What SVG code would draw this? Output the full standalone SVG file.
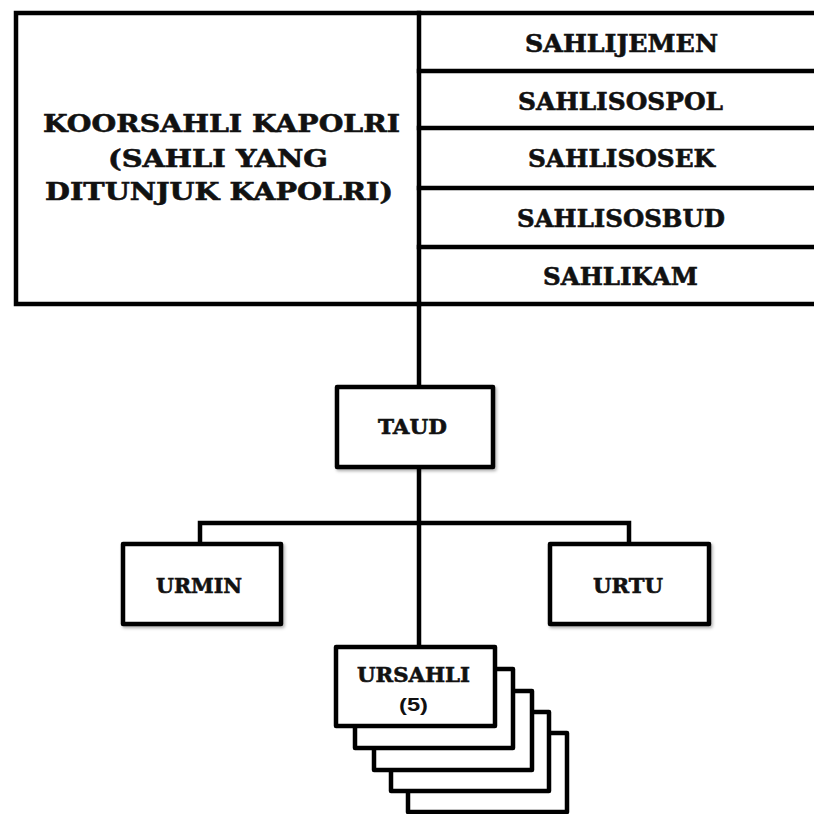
<svg xmlns="http://www.w3.org/2000/svg" width="814" height="814" viewBox="0 0 814 814">
<defs>
<style>
.ln{stroke:#000;stroke-width:4.5;fill:none;stroke-linecap:square}
.bx{fill:#fff;stroke:#000;stroke-width:4.5;stroke-linejoin:round}
.t{font-family:"DejaVu Serif","Liberation Serif",serif;font-weight:bold;fill:#111;stroke:#111;stroke-width:0.6;text-anchor:middle}
.big{font-size:23.5px}
.mid{font-size:24.5px}
.sm{font-size:20.5px}
.sans{font-family:"Liberation Sans","DejaVu Sans",sans-serif;font-weight:bold;font-size:18px;fill:#111;text-anchor:middle}
</style>
<filter id="sh" x="-10%" y="-10%" width="130%" height="130%">
<feDropShadow dx="1.5" dy="2" stdDeviation="1.5" flood-color="#000" flood-opacity="0.3"/>
</filter>
</defs>
<rect width="814" height="814" fill="#fff"/>
<g id="connectors">
<line class="ln" x1="419" y1="304" x2="419" y2="647"/>
<polyline class="ln" points="200,544 200,523 629,523 629,544"/>
</g>
<g id="koorsahli">
<path class="ln" d="M816,13 H16 V304 H816"/>
<line class="ln" x1="419" y1="13" x2="419" y2="304"/>
<text class="t big" x="221.5" y="132" textLength="357" lengthAdjust="spacingAndGlyphs">KOORSAHLI KAPOLRI</text>
<text class="t big" x="218" y="167" textLength="220" lengthAdjust="spacingAndGlyphs">(SAHLI YANG</text>
<text class="t big" x="219" y="200" textLength="348" lengthAdjust="spacingAndGlyphs">DITUNJUK KAPOLRI)</text>
</g>
<g id="sahli-list">
<line class="ln" x1="419" y1="71" x2="816" y2="71"/>
<line class="ln" x1="419" y1="128" x2="816" y2="128"/>
<line class="ln" x1="419" y1="188" x2="816" y2="188"/>
<line class="ln" x1="419" y1="247" x2="816" y2="247"/>
<text class="t mid" x="621.5" y="52" textLength="193" lengthAdjust="spacingAndGlyphs">SAHLIJEMEN</text>
<text class="t mid" x="620.5" y="110" textLength="205" lengthAdjust="spacingAndGlyphs">SAHLISOSPOL</text>
<text class="t mid" x="621.5" y="167" textLength="187" lengthAdjust="spacingAndGlyphs">SAHLISOSEK</text>
<text class="t mid" x="621" y="227" textLength="208" lengthAdjust="spacingAndGlyphs">SAHLISOSBUD</text>
<text class="t mid" x="620.5" y="285" textLength="155" lengthAdjust="spacingAndGlyphs">SAHLIKAM</text>
</g>
<g id="taud">
<rect class="bx" x="337" y="387" width="156" height="80" filter="url(#sh)"/>
<text class="t sm" x="412.5" y="434" textLength="69" lengthAdjust="spacingAndGlyphs">TAUD</text>
</g>
<g id="urmin">
<rect class="bx" x="123" y="544" width="158" height="80" filter="url(#sh)"/>
<text class="t sm" x="199" y="593" textLength="86" lengthAdjust="spacingAndGlyphs">URMIN</text>
</g>
<g id="urtu">
<rect class="bx" x="550" y="544" width="159" height="80" filter="url(#sh)"/>
<text class="t sm" x="628" y="593" textLength="70" lengthAdjust="spacingAndGlyphs">URTU</text>
</g>
<g id="ursahli">
<rect class="bx" x="408" y="733" width="159" height="79"/>
<rect class="bx" x="391" y="712" width="158" height="79"/>
<rect class="bx" x="374" y="691" width="158" height="79"/>
<rect class="bx" x="355" y="669" width="158" height="79"/>
<rect class="bx" x="336" y="647" width="159" height="79"/>
<text class="t sm" x="413.5" y="682" textLength="113" lengthAdjust="spacingAndGlyphs">URSAHLI</text>
<text class="sans" x="413.5" y="711" textLength="29" lengthAdjust="spacingAndGlyphs">(5)</text>
</g>
</svg>
